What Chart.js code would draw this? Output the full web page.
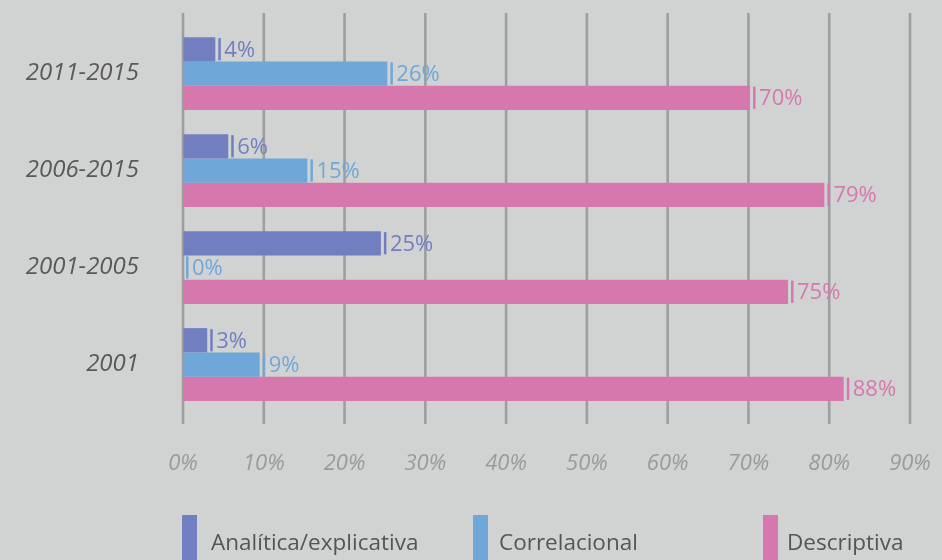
<!DOCTYPE html>
<html>
<head>
<meta charset="utf-8">
<script src="https://cdn.jsdelivr.net/npm/chart.js@4"></script>
<style>
  html, body { margin: 0; padding: 0; background: #d1d3d2; }
  #wrap { width: 942px; height: 560px; position: relative; }
</style>
</head>
<body>
<div id="wrap"><canvas id="chart"></canvas></div>
<script>
// categories, top to bottom
const periods = ['2011-2015', '2006-2015', '2001-2005', '2001'];

// bar lengths as drawn (percent)
const analitica    = [4, 5.6, 24.5, 3];
const correlacional = [25.3, 15.4, 0, 9.5];
const descriptiva  = [70.2, 79.4, 74.9, 81.8];

// printed data labels
const analiticaLbl     = [4, 6, 25, 3];
const correlacionalLbl = [26, 15, 0, 9];
const descriptivaLbl   = [70, 79, 75, 88];

const seriesNames = ['Analítica/explicativa', 'Correlacional', 'Descriptiva'];
const colors = ['#717fc0', '#6fa7d8', '#d678ae'];
const xTicks = [0, 10, 20, 30, 40, 50, 60, 70, 80, 90];

const gridColor = '#9d9f9e';
const font = "'Open Sans', 'Noto Sans', sans-serif";

// vertical gridlines, a bit taller than the plot area
const gridPlugin = {
  id: 'tallGrid',
  beforeDatasetsDraw(chart) {
    const ctx = chart.ctx;
    const x = chart.scales.x;
    const a = chart.chartArea;
    ctx.save();
    ctx.strokeStyle = gridColor;
    ctx.lineWidth = 2.6;
    xTicks.forEach(v => {
      const px = x.getPixelForValue(v);
      ctx.beginPath();
      ctx.moveTo(px, a.top - 12);
      ctx.lineTo(px, a.bottom + 11);
      ctx.stroke();
    });
    ctx.restore();
  }
};

// end marker + value label
const labelPlugin = {
  id: 'barLabels',
  afterDatasetsDraw(chart) {
    const ctx = chart.ctx;
    const lbls = [analiticaLbl, correlacionalLbl, descriptivaLbl];
    ctx.save();
    ctx.font = '22px ' + font;
    ctx.textBaseline = 'middle';
    ctx.textAlign = 'left';
    chart.data.datasets.forEach((ds, i) => {
      const meta = chart.getDatasetMeta(i);
      meta.data.forEach((bar, j) => {
        const h = bar.height;
        ctx.fillStyle = colors[i];
        ctx.fillRect(bar.x + 3, bar.y - h / 2 + 1, 2.5, h - 2);
        ctx.fillText(lbls[i][j] + '%', bar.x + 9, bar.y + 1);
      });
    });
    ctx.restore();
  }
};

// legend along the bottom edge
const legendPlugin = {
  id: 'bottomLegend',
  afterDraw(chart) {
    const ctx = chart.ctx;
    const xs = [182, 473, 763];
    const textX = [211, 499, 787];
    ctx.save();
    ctx.font = '22.5px ' + font;
    ctx.textBaseline = 'alphabetic';
    ctx.textAlign = 'left';
    seriesNames.forEach((name, i) => {
      ctx.fillStyle = colors[i];
      ctx.fillRect(xs[i], 515, 15, 50);
      ctx.fillStyle = '#555555';
      ctx.fillText(name, textX[i], 550);
    });
    ctx.restore();
  }
};

new Chart(document.getElementById('chart'), {
  type: 'bar',
  plugins: [gridPlugin, labelPlugin, legendPlugin],
  data: {
    labels: periods,
    datasets: [
      { label: seriesNames[0], data: analitica, backgroundColor: colors[0] },
      { label: seriesNames[1], data: correlacional, backgroundColor: colors[1] },
      { label: seriesNames[2], data: descriptiva, backgroundColor: colors[2] }
    ]
  },
  options: {
    indexAxis: 'y',
    responsive: true,
    maintainAspectRatio: false,
    animation: false,
    layout: { padding: { top: 25, right: 32, bottom: 0, left: 0 } },
    datasets: {
      bar: { categoryPercentage: 0.75, barPercentage: 1.0, borderWidth: 0 }
    },
    plugins: {
      legend: { display: false },
      tooltip: { enabled: false }
    },
    scales: {
      x: {
        min: 0, max: 90,
        border: { display: false },
        // invisible tick marks just push the labels down
        grid: { drawOnChartArea: false, drawTicks: true, tickLength: 34, color: 'transparent' },
        afterFit(scale) { scale.height = 147; },
        afterBuildTicks(scale) { scale.ticks = xTicks.map(v => ({ value: v })); },
        ticks: {
          padding: 4,
          color: '#9a9a9a',
          font: { family: font, size: 22, style: 'italic' },
          callback: v => v + '%'
        }
      },
      y: {
        border: { display: false },
        grid: { drawOnChartArea: false, drawTicks: true, tickLength: 40, color: 'transparent' },
        afterFit(scale) { scale.width = 183; },
        ticks: {
          padding: 4,
          color: '#595959',
          font: { family: font, size: 24, style: 'italic' }
        }
      }
    }
  }
});
</script>
</body>
</html>
